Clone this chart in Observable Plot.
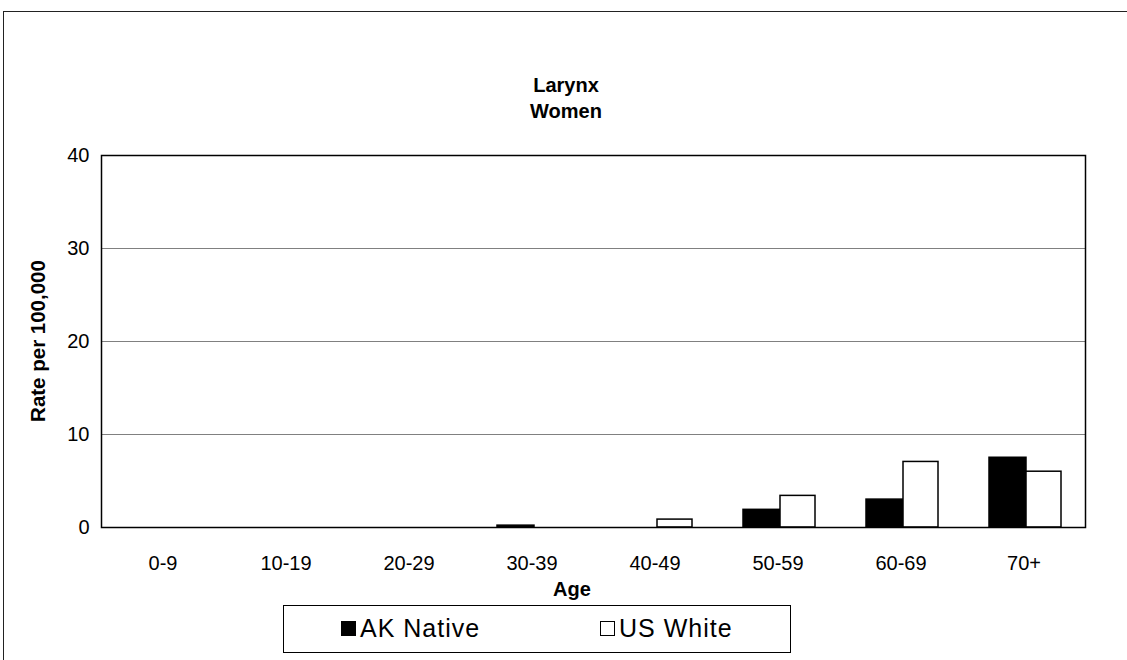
<!DOCTYPE html>
<html>
<head>
<meta charset="utf-8">
<script src="https://cdn.jsdelivr.net/npm/d3@7"></script>
<script src="https://cdn.jsdelivr.net/npm/@observablehq/plot@0.6"></script>
<style>
  html, body { margin: 0; padding: 0; background: #fff; overflow: hidden; }
  body { width: 1127px; height: 660px; position: relative; font-family: "Liberation Sans", Arial, sans-serif; }
  #frame { position: absolute; left: 3px; top: 11px; width: 1300px; height: 800px; border-left: 1.5px solid #222; border-top: 1.5px solid #222; }
  .title { position: absolute; left: 0; width: 1132px; text-align: center; font-weight: bold; font-size: 20px; color: #000; }
  #chart { position: absolute; left: 0; top: 0; }
  #ylabel { position: absolute; left: 38px; top: 341px; transform: translate(-50%, -50%) rotate(-90deg); font-weight: bold; font-size: 20.5px; white-space: nowrap; }
  #xlabel { position: absolute; left: 0; width: 1144px; top: 578px; text-align: center; font-weight: bold; font-size: 20px; }
  #legend { position: absolute; left: 283px; top: 605px; width: 508px; height: 48px; border: 1px solid #000; box-sizing: border-box; font-size: 25px; letter-spacing: 1px; }
  .item { position: absolute; top: 8px; display: flex; align-items: center; }
  .sw { width: 15px; height: 15px; box-sizing: border-box; margin-right: 4px; border: 1.2px solid #000; }
</style>
</head>
<body>
<div id="frame"></div>
<div class="title" style="top:74px">Larynx</div>
<div class="title" style="top:100px">Women</div>
<div id="chart"></div>
<div id="ylabel">Rate per 100,000</div>
<div id="xlabel">Age</div>
<div id="legend"></div>
<script>
const ages = ["0-9", "10-19", "20-29", "30-39", "40-49", "50-59", "60-69", "70+"];
const akNative = [0, 0, 0, 0.2, 0, 1.9, 3.0, 7.5];
const usWhite = [0, 0, 0, 0, 0.85, 3.4, 7.05, 6.0];
const yTicks = [0, 10, 20, 30, 40];
const gridValues = [10, 20, 30];
const seriesNames = ["AK Native", "US White"];
const seriesFills = ["#000000", "#ffffff"];

const chart = Plot.plot({
  width: 1127,
  height: 600,
  marginTop: 155,
  marginLeft: 101,
  marginRight: 42,
  marginBottom: 73,
  style: { fontFamily: "'Liberation Sans', Arial, sans-serif", fontSize: "20px", color: "#000", background: "transparent" },
  x: { domain: ages, padding: 0, tickSize: 0, tickPadding: 28, label: null },
  y: { domain: [0, 40], ticks: yTicks, tickSize: 0, tickPadding: 12, label: null },
  marks: [
    Plot.ruleY(gridValues, { stroke: "#808080", strokeWidth: 1.2 }),
    Plot.barY(ages, { x: d => d, y: (d, i) => akNative[i], fill: seriesFills[0], stroke: "#000", strokeWidth: 1.5, insetLeft: 27, insetRight: 59 }),
    Plot.barY(ages, { x: d => d, y: (d, i) => usWhite[i], fill: seriesFills[1], stroke: "#000", strokeWidth: 1.5, insetLeft: 64, insetRight: 24 }),
    Plot.frame({ stroke: "#000", strokeWidth: 1.5 })
  ]
});
document.getElementById("chart").appendChild(chart);

const legend = document.getElementById("legend");
const lefts = [57, 316];
seriesNames.forEach((name, i) => {
  const item = document.createElement("div");
  item.className = "item";
  item.style.left = lefts[i] + "px";
  const sw = document.createElement("div");
  sw.className = "sw";
  sw.style.background = seriesFills[i];
  const tx = document.createElement("span");
  tx.textContent = name;
  item.appendChild(sw);
  item.appendChild(tx);
  legend.appendChild(item);
});
</script>
</body>
</html>
